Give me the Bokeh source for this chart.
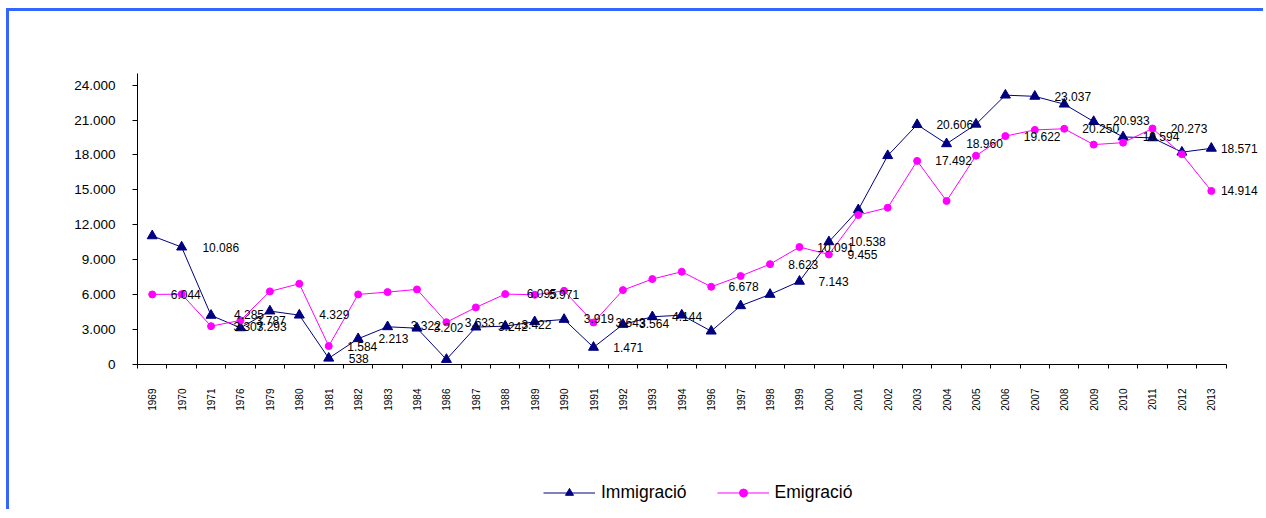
import math
from bokeh.plotting import figure
from bokeh.layouts import column
from bokeh.models import Range1d, FixedTicker, ColumnDataSource, Legend, LegendItem
from bokeh.embed import file_html
from bokeh.resources import INLINE
from bokeh.core.properties import value

years = ["1969", "1970", "1971", "1976", "1979", "1980", "1981", "1982", "1983",
         "1984", "1986", "1987", "1988", "1989", "1990", "1991", "1992", "1993",
         "1994", "1996", "1997", "1998", "1999", "2000", "2001", "2002", "2003",
         "2004", "2005", "2006", "2007", "2008", "2009", "2010", "2011", "2012", "2013"]

immigracio = [11050, 10086, 4220, 3150, 4590, 4240, 538, 2213, 3240, 3120, 430,
              3210, 3295, 3670, 3870, 1471, 3440, 4100, 4240, 2865, 5045, 6020,
              7143, 10538, 13290, 17940, 20606, 18960, 20640, 23140, 23037, 22365,
              20870, 19550, 19470, 18240, 18571]

emigracio = [6020, 6044, 3293, 3787, 6280, 6935, 1584, 6020, 6220, 6450, 3633,
             4900, 6050, 5990, 6330, 3610, 6390, 7340, 7970, 6678, 7600, 8623,
             10091, 9455, 12840, 13470, 17492, 14050, 17940, 19622, 20155, 20250,
             18890, 19060, 20273, 18060, 14914]

y_ticks = [0, 3000, 6000, 9000, 12000, 15000, 18000, 21000, 24000]
y_tick_labels = ["0", "3.000", "6.000", "9.000", "12.000", "15.000", "18.000", "21.000", "24.000"]

# data labels as shown in the chart (value, and the category position where they sit)
label_values = [6044, 10086, 4285, 3307, 3787, 3293, 4329, 1584, 538, 2213, 3322,
                3202, 3633, 3242, 3422, 6095, 5971, 3919, 1471, 3643, 3564, 4144,
                6678, 8623, 7143, 10091, 10538, 9455, 20606, 17492, 18960, 19622,
                23037, 20250, 20933, 19594, 20273, 18571, 14914]
label_pos = [1.14, 2.33, 3.29, 3.27, 4.03, 4.06, 6.19, 7.14, 7.02, 8.2, 9.3,
             10.07, 11.13, 12.26, 13.06, 13.24, 14.0, 15.18, 16.18, 16.26, 17.06, 18.18,
             20.1, 22.13, 23.16, 23.23, 24.31, 24.14, 27.28, 27.24, 28.29, 30.25,
             31.29, 32.24, 33.28, 34.29, 35.24, 36.95, 36.95]

series_names = ["Immigració", "Emigració"]


def fmt(v):
    return f"{v:,}".replace(",", ".")


FONT = "Liberation Sans"
BORDER = "3px solid #3366ff"
NAVY = "#000080"
MAGENTA = "#ff00ff"
xs = list(range(len(years)))

p = figure(width=1257, height=461,
           x_range=Range1d(-0.5, 37.875), y_range=Range1d(0, 25000),
           output_backend="svg", toolbar_location=None,
           min_border_left=128, min_border_right=0, min_border_top=62, min_border_bottom=108)
p.xgrid.visible = False
p.ygrid.visible = False
p.outline_line_color = None
p.background_fill_color = "white"
p.border_fill_color = "white"
p.styles = {"border-left": BORDER, "border-top": BORDER}

xa = p.xaxis[0]
xa.ticker = FixedTicker(ticks=xs, minor_ticks=[i - 0.5 for i in range(len(years) + 1)])
xa.major_label_overrides = {i: y for i, y in enumerate(years)}
xa.major_tick_out = 0
xa.major_tick_in = 0
xa.minor_tick_out = 4
xa.minor_tick_in = 0
xa.minor_tick_line_color = "black"
xa.axis_line_color = "black"
xa.bounds = (-0.5, 36.5)
xa.major_label_orientation = math.pi / 2
xa.major_label_standoff = 20
xa.major_label_text_font = FONT
xa.major_label_text_font_size = "10px"
xa.major_label_text_color = "black"

ya = p.yaxis[0]
ya.ticker = FixedTicker(ticks=y_ticks, minor_ticks=[])
ya.major_label_overrides = {t: l for t, l in zip(y_ticks, y_tick_labels)}
ya.major_tick_out = 5
ya.major_tick_in = 0
ya.minor_tick_out = 0
ya.minor_tick_in = 0
ya.axis_line_color = "black"
ya.major_tick_line_color = "black"
ya.major_label_standoff = 17
ya.major_label_text_font = FONT
ya.major_label_text_font_size = "13.5px"
ya.major_label_text_color = "black"

p.line(xs, immigracio, line_color=NAVY, line_width=1)
p.scatter(xs, immigracio, marker="triangle", size=10, color=NAVY)
p.line(xs, emigracio, line_color=MAGENTA, line_width=1)
p.scatter(xs, emigracio, marker="circle", size=7, color=MAGENTA)

src = ColumnDataSource(dict(x=label_pos, y=label_values, t=[fmt(v) for v in label_values]))
p.text(x="x", y="y", text="t", source=src, text_font=value(FONT), text_font_size="12px",
       text_align="center", text_baseline="middle", text_color="black")

# legend strip below the chart (its ranges keep the series themselves out of view)
p2 = figure(width=1257, height=40, x_range=Range1d(0, 1), y_range=Range1d(-2, -1),
            output_backend="svg", toolbar_location=None,
            min_border_left=0, min_border_right=0, min_border_top=6, min_border_bottom=0)
p2.axis.visible = False
p2.grid.visible = False
p2.outline_line_color = None
p2.styles = {"border-left": BORDER}
r1l = p2.line(xs, immigracio, line_color=NAVY, line_width=1)
r1s = p2.scatter(xs, immigracio, marker="triangle", size=8, color=NAVY)
r2l = p2.line(xs, emigracio, line_color=MAGENTA, line_width=1)
r2s = p2.scatter(xs, emigracio, marker="circle", size=5, color=MAGENTA)

legend = Legend(items=[LegendItem(label=series_names[0], renderers=[r1l, r1s]),
                       LegendItem(label=series_names[1], renderers=[r2l, r2s])],
                orientation="horizontal", location="left",
                glyph_width=52, glyph_height=20, label_standoff=6, spacing=30,
                padding=0, margin=406, border_line_color=None, background_fill_alpha=0,
                label_text_font=FONT, label_text_font_size="17.5px", label_text_color="black")
p2.add_layout(legend)

layout = column(p, p2, spacing=0, styles={"margin-left": "6px", "margin-top": "8px"})

open("out.html", "w").write(file_html(layout, INLINE))
